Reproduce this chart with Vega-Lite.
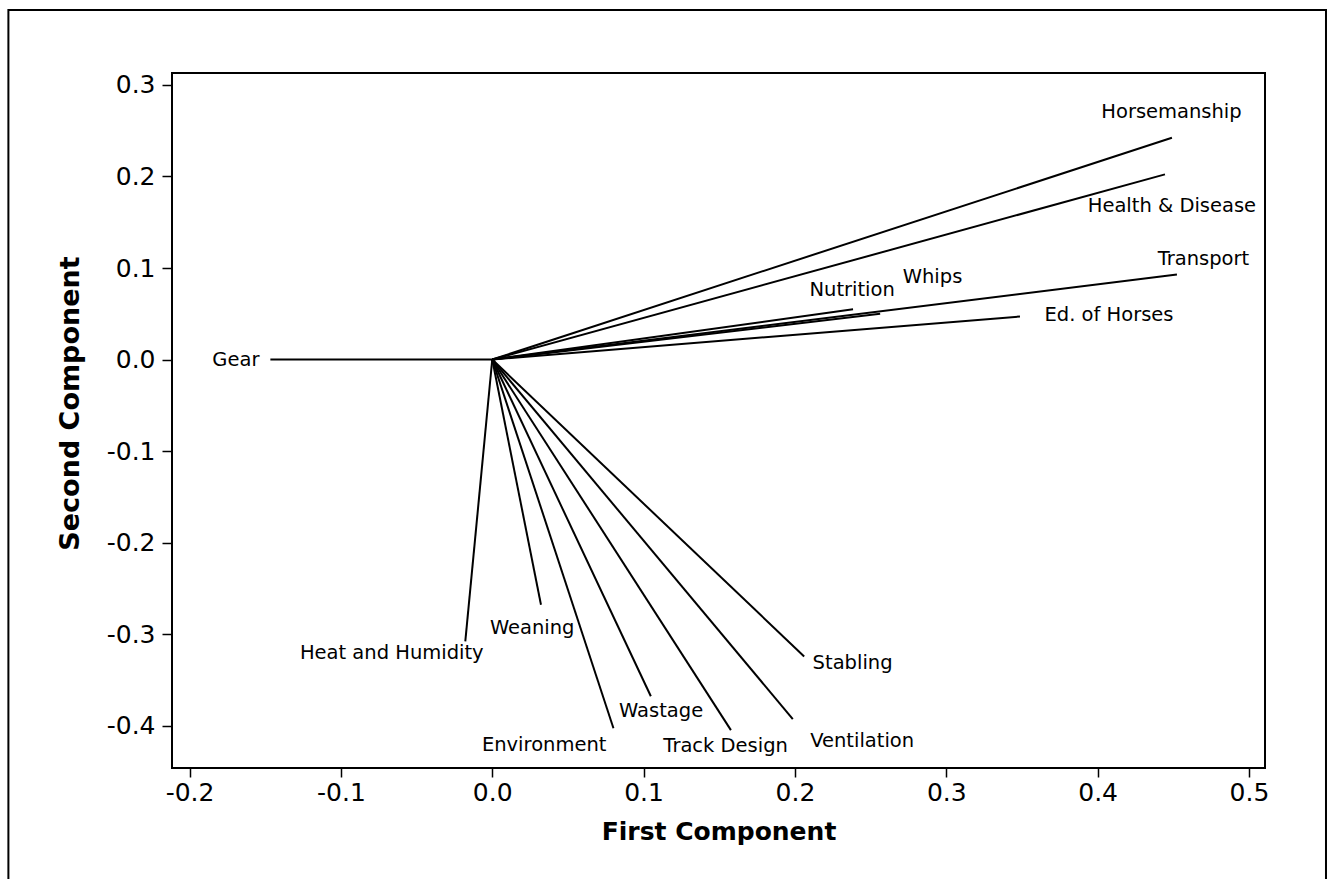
{
  "$schema": "https://vega.github.io/schema/vega-lite/v6.json",
  "width": 1093,
  "height": 695,
  "autosize": {"type": "none"},
  "padding": {"left": 172, "top": 73, "right": 69, "bottom": 111},
  "background": "white",
  "config": {
    "view": {"stroke": "black", "strokeWidth": 2},
    "font": "DejaVu Sans"
  },
  "datasets": {
    "loadings": [
      {"variable": "Horsemanship", "origin1": 0, "origin2": 0, "pc1": 0.4491, "pc2": 0.2424, "label_x": 0.4488, "label_y": 0.2705},
      {"variable": "Health & Disease", "origin1": 0, "origin2": 0, "pc1": 0.4445, "pc2": 0.2023, "label_x": 0.4491, "label_y": 0.1677},
      {"variable": "Transport", "origin1": 0, "origin2": 0, "pc1": 0.4524, "pc2": 0.093, "label_x": 0.4699, "label_y": 0.1097},
      {"variable": "Ed. of Horses", "origin1": 0, "origin2": 0, "pc1": 0.3487, "pc2": 0.047, "label_x": 0.4075, "label_y": 0.0484},
      {"variable": "Nutrition", "origin1": 0, "origin2": 0, "pc1": 0.2384, "pc2": 0.0548, "label_x": 0.2378, "label_y": 0.0758},
      {"variable": "Whips", "origin1": 0, "origin2": 0, "pc1": 0.2563, "pc2": 0.05, "label_x": 0.2909, "label_y": 0.09},
      {"variable": "Gear", "origin1": 0, "origin2": 0, "pc1": -0.1466, "pc2": 0.0, "label_x": -0.1694, "label_y": 0.0},
      {"variable": "Heat and Humidity", "origin1": 0, "origin2": 0, "pc1": -0.0178, "pc2": -0.308, "label_x": -0.0664, "label_y": -0.3212},
      {"variable": "Weaning", "origin1": 0, "origin2": 0, "pc1": 0.0322, "pc2": -0.268, "label_x": 0.0264, "label_y": -0.2939},
      {"variable": "Environment", "origin1": 0, "origin2": 0, "pc1": 0.0801, "pc2": -0.403, "label_x": 0.0343, "label_y": -0.4218},
      {"variable": "Wastage", "origin1": 0, "origin2": 0, "pc1": 0.1048, "pc2": -0.368, "label_x": 0.1116, "label_y": -0.3836},
      {"variable": "Track Design", "origin1": 0, "origin2": 0, "pc1": 0.1577, "pc2": -0.405, "label_x": 0.1542, "label_y": -0.4229},
      {"variable": "Ventilation", "origin1": 0, "origin2": 0, "pc1": 0.1986, "pc2": -0.393, "label_x": 0.2444, "label_y": -0.4164},
      {"variable": "Stabling", "origin1": 0, "origin2": 0, "pc1": 0.2061, "pc2": -0.3245, "label_x": 0.2381, "label_y": -0.3322}
    ],
    "frame": [
      {"x_left": -0.3197, "x_right": 0.5509, "y_top": 0.382, "y_bottom": -0.6}
    ]
  },
  "encoding": {
    "x": {
      "type": "quantitative",
      "scale": {"domain": [-0.2116, 0.5106], "nice": false, "zero": false},
      "axis": {
        "title": "First Component",
        "values": [-0.2, -0.1, 0.0, 0.1, 0.2, 0.3, 0.4, 0.5],
        "format": ".1f",
        "labelExpr": "replace(datum.label, '\u2212', '-')",
        "grid": false,
        "domain": false,
        "tickColor": "black",
        "tickWidth": 1.5,
        "tickSize": 9,
        "labelFontSize": 25,
        "labelColor": "black",
        "labelPadding": 3,
        "titleFontSize": 25,
        "titleFontWeight": "bold",
        "titleColor": "black",
        "titlePadding": 14
      }
    },
    "y": {
      "type": "quantitative",
      "scale": {"domain": [-0.4464, 0.3131], "nice": false, "zero": false},
      "axis": {
        "title": "Second Component",
        "values": [-0.4, -0.3, -0.2, -0.1, 0.0, 0.1, 0.2, 0.3],
        "format": ".1f",
        "labelExpr": "replace(datum.label, '\u2212', '-')",
        "grid": false,
        "domain": false,
        "tickColor": "black",
        "tickWidth": 1.5,
        "tickSize": 10,
        "labelFontSize": 25,
        "labelColor": "black",
        "labelPadding": 7,
        "titleFontSize": 27,
        "titleFontWeight": "bold",
        "titleColor": "black",
        "titleY": 330,
        "titlePadding": 22
      }
    }
  },
  "layer": [
    {
      "data": {"name": "loadings"},
      "mark": {"type": "rule", "color": "black", "strokeWidth": 2},
      "encoding": {
        "x": {"field": "origin1"},
        "y": {"field": "origin2"},
        "x2": {"field": "pc1"},
        "y2": {"field": "pc2"}
      }
    },
    {
      "data": {"name": "loadings"},
      "mark": {"type": "text", "align": "center", "baseline": "middle", "fontSize": 19.5, "color": "black"},
      "encoding": {
        "x": {"field": "label_x"},
        "y": {"field": "label_y"},
        "text": {"field": "variable", "type": "nominal"}
      }
    },
    {
      "data": {"name": "frame"},
      "mark": {"type": "rect", "fillOpacity": 0, "stroke": "black", "strokeWidth": 2, "clip": false},
      "encoding": {
        "x": {"field": "x_left"},
        "x2": {"field": "x_right"},
        "y": {"field": "y_top"},
        "y2": {"field": "y_bottom"}
      }
    }
  ]
}
